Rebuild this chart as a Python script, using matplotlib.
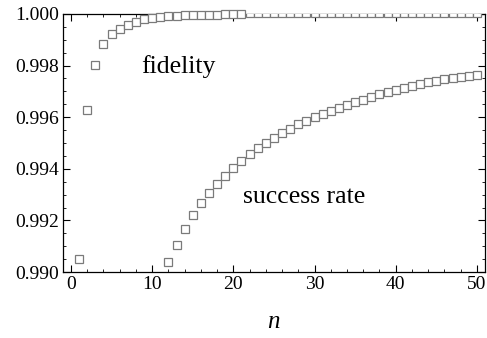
import matplotlib
matplotlib.use("Agg")
import matplotlib.pyplot as plt
import numpy as np
from matplotlib.ticker import MultipleLocator, FormatStrFormatter

n_fid = list(range(1, 51))
fidelity = [0.99050, 0.99628, 0.99802, 0.99884, 0.99922, 0.99942, 0.99957, 0.99970,
            0.99979, 0.99984, 0.99988, 0.99991, 0.99993, 0.99994, 0.99995, 0.99996,
            0.99997, 0.99997, 0.99998, 0.99998, 0.99998] + [1.00003] * 29

n_succ = list(range(12, 51))
success = [0.99040, 0.99105, 0.99167, 0.99220, 0.99266, 0.99305, 0.99342, 0.99374,
           0.99404, 0.99432, 0.99457, 0.99481, 0.99501, 0.99520, 0.99539, 0.99555,
           0.99573, 0.99586, 0.99600, 0.99613, 0.99625, 0.99636, 0.99647, 0.99658,
           0.99668, 0.99678, 0.99688, 0.99697, 0.99705, 0.99713, 0.99721, 0.99728,
           0.99735, 0.99741, 0.99746, 0.99751, 0.99755, 0.99759, 0.99763]

plt.rcParams['font.family'] = ['Liberation Serif', 'DejaVu Serif']
plt.rcParams['mathtext.fontset'] = 'custom'
plt.rcParams['mathtext.it'] = 'Liberation Serif:italic'

fig = plt.figure(figsize=(4.87, 3.38), dpi=100)
ax = fig.add_axes([0.129, 0.195, 0.867, 0.764])

mk = dict(marker='s', linestyle='none', markersize=6, markerfacecolor='white',
          markeredgecolor='#7a7a7a', markeredgewidth=0.9)

fid = np.array(fidelity)
nf = np.array(n_fid)
inside = fid < 1.0
ax.plot(nf[inside], fid[inside], clip_on=False, zorder=3, **mk)
ax.plot(nf[~inside], fid[~inside], clip_on=True, zorder=3, **mk)
ax.plot(n_succ, success, clip_on=False, zorder=3, **mk)

ax.set_xlim(-1, 51)
ax.set_ylim(0.990, 1.000)
ax.xaxis.set_major_locator(MultipleLocator(10))
ax.xaxis.set_minor_locator(MultipleLocator(2))
ax.yaxis.set_major_locator(MultipleLocator(0.002))
ax.yaxis.set_minor_locator(MultipleLocator(0.0005))
ax.yaxis.set_major_formatter(FormatStrFormatter('%.3f'))
ax.tick_params(which='both', direction='in', top=True, right=True, labelsize=14, pad=3)
ax.tick_params(which='major', length=5, width=0.8)
ax.tick_params(which='minor', length=2.5, width=0.6)
for s in ax.spines.values():
    s.set_linewidth(0.9)

ax.set_xlabel(r'$n$', fontsize=18, labelpad=13)
ax.text(8.7, 0.99771, 'fidelity', fontsize=18.5)
ax.text(21.2, 0.99267, 'success rate', fontsize=18.5)

fig.savefig('out.png', dpi=100)
